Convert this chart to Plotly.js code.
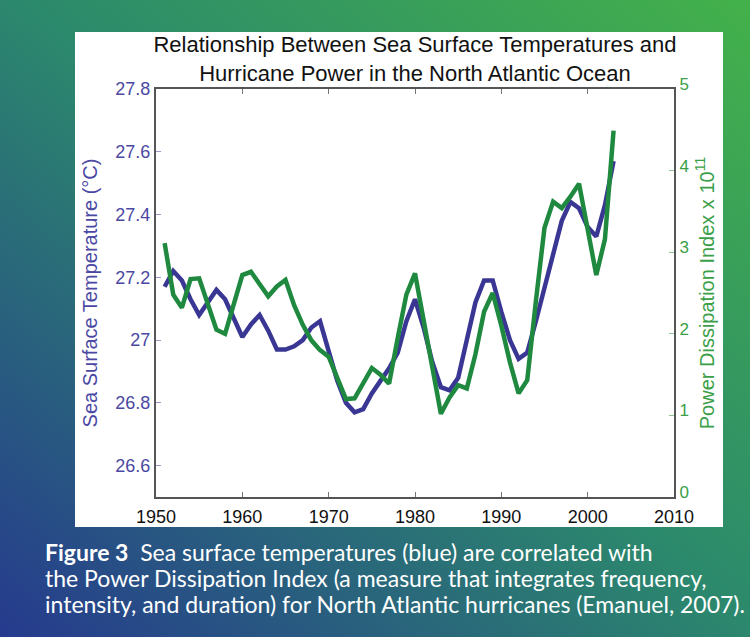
<!DOCTYPE html>
<html>
<head>
<meta charset="utf-8">
<script src="https://cdn.plot.ly/plotly-3.0.1.min.js"></script>
<style>
  html, body { margin: 0; padding: 0; }
  body {
    width: 750px; height: 637px; overflow: hidden;
    background: linear-gradient(to top right, #263a8e 0%, #2c8a6c 52%, #43b14a 100%);
  }
  #chart { width: 750px; height: 637px; }
</style>
</head>
<body>
<div id="chart"></div>
<script>
// ---- data ----
const years = [1951,1952,1953,1954,1955,1956,1957,1958,1959,1960,
               1961,1962,1963,1964,1965,1966,1967,1968,1969,1970,
               1971,1972,1973,1974,1975,1976,1977,1978,1979,1980,
               1981,1982,1983,1984,1985,1986,1987,1988,1989,1990,
               1991,1992,1993,1994,1995,1996,1997,1998,1999,2000,
               2001,2002,2003];

// Sea surface temperature (°C), left axis
const sst = [27.17,27.22,27.19,27.13,27.08,27.12,27.16,27.13,27.07,27.01,
             27.05,27.08,27.03,26.97,26.97,26.98,27.00,27.04,27.06,26.96,
             26.87,26.80,26.77,26.78,26.83,26.87,26.91,26.96,27.06,27.13,
             27.04,26.93,26.85,26.84,26.88,27.00,27.12,27.19,27.19,27.09,
             27.00,26.94,26.96,27.06,27.17,27.28,27.38,27.44,27.42,27.36,
             27.33,27.43,27.57];

// Power Dissipation Index (x 10^11), right axis
const pdi = [3.11,2.48,2.32,2.67,2.68,2.35,2.05,2.00,2.35,2.72,
             2.76,2.60,2.46,2.58,2.66,2.35,2.11,1.92,1.80,1.72,
             1.45,1.20,1.21,1.40,1.58,1.50,1.39,1.95,2.48,2.74,
             2.17,1.58,1.02,1.22,1.37,1.33,1.75,2.27,2.50,2.10,
             1.65,1.27,1.43,2.40,3.30,3.62,3.54,3.68,3.84,3.28,
             2.72,3.16,4.49];

const titleLines = ["Relationship Between Sea Surface Temperatures and",
                    "Hurricane Power in the North Atlantic Ocean"];
const leftTitle = "Sea Surface Temperature (°C)";
const rightTitle = "Power Dissipation Index x 10<sup>11</sup>";
const captionLines = ["<b>Figure 3</b>  Sea surface temperatures (blue) are correlated with",
                      "the Power Dissipation Index (a measure that integrates frequency,",
                      "intensity, and duration) for North Atlantic hurricanes (Emanuel, 2007)."];
const captionY = [552, 578, 604];   // centre of each caption line, px

// ---- layout geometry (pixels) ----
const W = 750, H = 637;
const M = {l: 156, r: 76, t: 89, b: 140};
const PW = W - M.l - M.r, PH = H - M.t - M.b;
const px = x => (x - M.l) / PW;
const py = y => (H - M.b - y) / PH;

const FONT = "Liberation Sans, Arial, sans-serif";
const BLUE = "#3a3794";
const GREEN = "#1f8a3f";
const BLUE_TXT = "#4b48a3";
const GREEN_TXT = "#3a9f48";

const traces = [
  {x: years, y: sst, type: "scatter", mode: "lines", yaxis: "y",
   line: {color: BLUE, width: 4.5}, hoverinfo: "skip"},
  {x: years, y: pdi, type: "scatter", mode: "lines", yaxis: "y2",
   line: {color: GREEN, width: 4.5}, hoverinfo: "skip"}
];

const layout = {
  width: W, height: H,
  margin: M,
  paper_bgcolor: "rgba(0,0,0,0)",
  plot_bgcolor: "#fdf8f4",
  showlegend: false,
  title: {
    text: titleLines.join("<br>"),
    font: {family: FONT, size: 22, color: "#111"},
    x: 0.5, xref: "paper", xanchor: "center",
    y: 1 - 52 / H, yref: "container", yanchor: "top"
  },
  xaxis: {
    range: [1950, 2010], dtick: 10, tick0: 1950,
    showgrid: false, zeroline: false,
    showline: true, linecolor: "#555", linewidth: 2, mirror: "ticks",
    ticks: "inside", ticklen: 5, tickcolor: "#777", tickwidth: 1,
    ticklabelstandoff: 2,
    tickfont: {family: FONT, size: 18, color: "#111"}
  },
  yaxis: {
    range: [26.5, 27.8], tick0: 26.6, dtick: 0.2,
    showgrid: false, zeroline: false,
    showline: true, linecolor: "#555", linewidth: 2,
    ticks: "inside", ticklen: 5, tickcolor: "#9a98cc", tickwidth: 1,
    tickfont: {family: FONT, size: 18, color: BLUE_TXT},
    title: {text: leftTitle, font: {family: FONT, size: 20, color: BLUE_TXT}, standoff: 12}
  },
  yaxis2: {
    range: [0, 5], dtick: 1, overlaying: "y", side: "right",
    showgrid: false, zeroline: false,
    showline: true, linecolor: "#555", linewidth: 2,
    ticks: "inside", ticklen: 5, tickcolor: "#8cc596", tickwidth: 1,
    ticklabelshift: -5,
    tickfont: {family: FONT, size: 17, color: GREEN_TXT},
    title: {text: rightTitle, font: {family: FONT, size: 20, color: GREEN_TXT}, standoff: 12}
  },
  shapes: [
    {type: "rect", xref: "paper", yref: "paper", layer: "below",
     x0: px(75), x1: px(723), y0: py(527), y1: py(32),
     fillcolor: "#ffffff", line: {width: 0}}
  ],
  annotations: captionLines.map((t, i) => ({
    xref: "paper", yref: "paper", x: px(43), y: py(captionY[i]),
    xanchor: "left", yanchor: "middle", align: "left", showarrow: false,
    text: t,
    font: {family: "Lato, Open Sans, sans-serif", size: 23, color: "#ffffff"}
  }))
};

Plotly.newPlot("chart", traces, layout, {staticPlot: true, displayModeBar: false});
</script>
</body>
</html>
